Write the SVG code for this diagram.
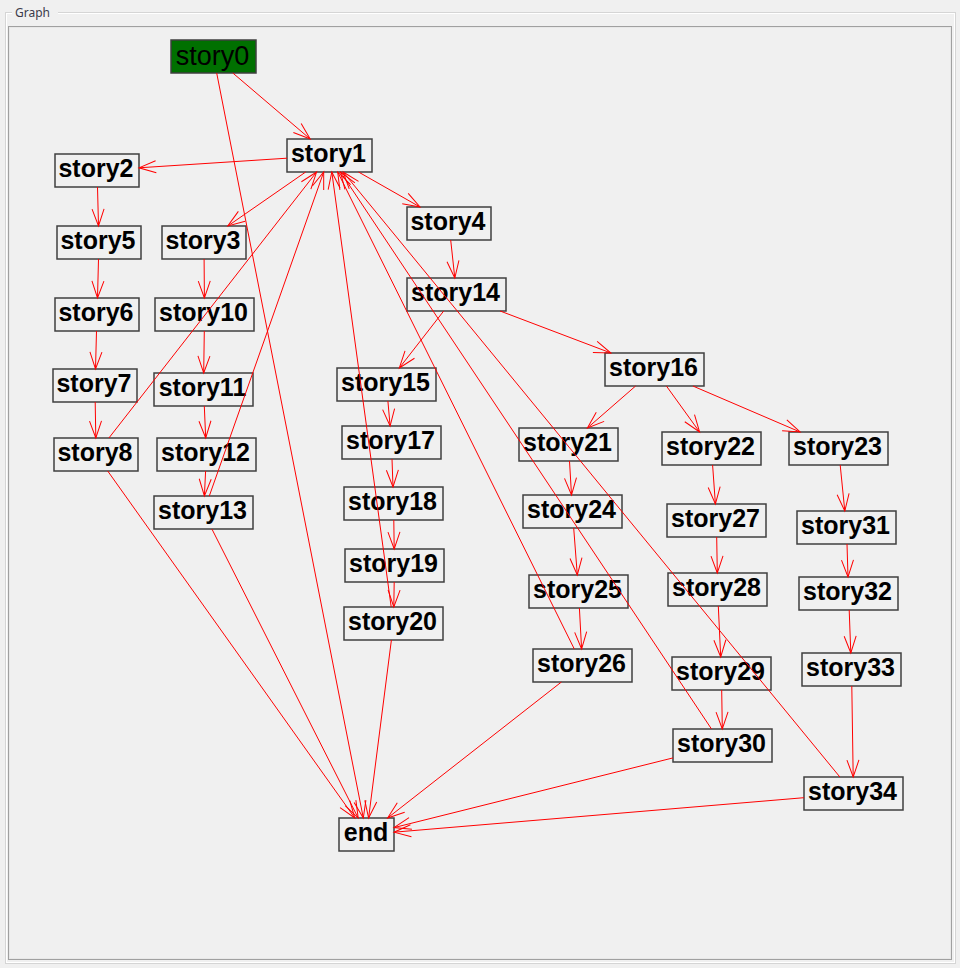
<svg xmlns="http://www.w3.org/2000/svg" width="960" height="968" viewBox="0 0 960 968">
<style>
.nb{fill:#f0f0f0;stroke:#3f3f3f;stroke-width:1.5}
.nt{font-family:"Liberation Sans",Arial,sans-serif;font-weight:bold;font-size:25px;fill:#000;text-anchor:middle}
.e{stroke:#ff0000;stroke-width:1;fill:none;marker-end:url(#ah)}
</style>
<defs>
<marker id="ah" markerWidth="20" markerHeight="14" viewBox="-18 -7 20 14" refX="0" refY="0" orient="auto" markerUnits="userSpaceOnUse" overflow="visible">
<path d="M-17,-6 L0,0 L-17,6" fill="none" stroke="#ff0000" stroke-width="1"/>
</marker>
</defs>
<rect x="0" y="0" width="960" height="968" fill="#f0f0f0"/>
<g id="frame">
<rect x="5.5" y="12.5" width="950" height="951" fill="none" stroke="#d5d5d5"/>
<rect x="6.5" y="13.5" width="948" height="949" fill="none" stroke="#ffffff"/>
<rect x="12" y="4" width="46" height="16" fill="#f0f0f0"/>
<text x="15" y="17" font-family="'Noto Sans','Liberation Sans',sans-serif" font-size="12" fill="#3b3b4a">Graph</text>
<rect x="8.5" y="26.5" width="943" height="933" fill="#f0f0f0" stroke="#a0a0a0"/>
<rect x="9.5" y="27.5" width="941" height="931" fill="none" stroke="#e8e8e8"/>
</g>
<g id="nodes">
<g id="story0"><rect x="171" y="40" width="85" height="33" fill="#007000" stroke="#3f3f3f" stroke-width="1.5"/><text x="212.5" y="65" font-family="'Liberation Sans',Arial,sans-serif" font-size="27" text-anchor="middle" fill="#000">story0</text></g>
<g id="story1"><rect class="nb" x="287" y="139" width="85" height="33"/><text class="nt" x="328.5" y="162">story1</text></g>
<g id="story2"><rect class="nb" x="55" y="154" width="84" height="33"/><text class="nt" x="96" y="177">story2</text></g>
<g id="story3"><rect class="nb" x="162" y="226" width="84" height="33"/><text class="nt" x="203" y="249">story3</text></g>
<g id="story4"><rect class="nb" x="407" y="207" width="84" height="33"/><text class="nt" x="448" y="230">story4</text></g>
<g id="story5"><rect class="nb" x="57" y="226" width="84" height="33"/><text class="nt" x="98" y="249">story5</text></g>
<g id="story6"><rect class="nb" x="55" y="298" width="84" height="33"/><text class="nt" x="96" y="321">story6</text></g>
<g id="story7"><rect class="nb" x="53" y="369" width="84" height="33"/><text class="nt" x="94" y="392">story7</text></g>
<g id="story8"><rect class="nb" x="54" y="438" width="84" height="33"/><text class="nt" x="95" y="461">story8</text></g>
<g id="story10"><rect class="nb" x="155" y="298" width="99" height="33"/><text class="nt" x="203.5" y="321">story10</text></g>
<g id="story11"><rect class="nb" x="154" y="373" width="99" height="33"/><text class="nt" x="202.5" y="396">story11</text></g>
<g id="story12"><rect class="nb" x="157" y="438" width="99" height="33"/><text class="nt" x="205.5" y="461">story12</text></g>
<g id="story13"><rect class="nb" x="154" y="496" width="99" height="33"/><text class="nt" x="202.5" y="519">story13</text></g>
<g id="story14"><rect class="nb" x="407" y="278" width="99" height="33"/><text class="nt" x="455.5" y="301">story14</text></g>
<g id="story15"><rect class="nb" x="337" y="368" width="99" height="33"/><text class="nt" x="385.5" y="391">story15</text></g>
<g id="story16"><rect class="nb" x="605" y="353" width="99" height="33"/><text class="nt" x="653.5" y="376">story16</text></g>
<g id="story17"><rect class="nb" x="342" y="426" width="99" height="33"/><text class="nt" x="390.5" y="449">story17</text></g>
<g id="story18"><rect class="nb" x="344" y="487" width="99" height="33"/><text class="nt" x="392.5" y="510">story18</text></g>
<g id="story19"><rect class="nb" x="345" y="549" width="99" height="33"/><text class="nt" x="393.5" y="572">story19</text></g>
<g id="story20"><rect class="nb" x="344" y="607" width="99" height="33"/><text class="nt" x="392.5" y="630">story20</text></g>
<g id="story21"><rect class="nb" x="519" y="428" width="99" height="33"/><text class="nt" x="567.5" y="451">story21</text></g>
<g id="story22"><rect class="nb" x="662" y="432" width="99" height="33"/><text class="nt" x="710.5" y="455">story22</text></g>
<g id="story23"><rect class="nb" x="789" y="432" width="99" height="33"/><text class="nt" x="837.5" y="455">story23</text></g>
<g id="story24"><rect class="nb" x="523" y="495" width="99" height="33"/><text class="nt" x="571.5" y="518">story24</text></g>
<g id="story25"><rect class="nb" x="529" y="575" width="99" height="33"/><text class="nt" x="577.5" y="598">story25</text></g>
<g id="story26"><rect class="nb" x="533" y="649" width="99" height="33"/><text class="nt" x="581.5" y="672">story26</text></g>
<g id="story27"><rect class="nb" x="667" y="504" width="99" height="33"/><text class="nt" x="715.5" y="527">story27</text></g>
<g id="story28"><rect class="nb" x="668" y="573" width="99" height="33"/><text class="nt" x="716.5" y="596">story28</text></g>
<g id="story29"><rect class="nb" x="672" y="657" width="99" height="33"/><text class="nt" x="720.5" y="680">story29</text></g>
<g id="story30"><rect class="nb" x="673" y="729" width="99" height="33"/><text class="nt" x="721.5" y="752">story30</text></g>
<g id="story31"><rect class="nb" x="797" y="511" width="99" height="33"/><text class="nt" x="845.5" y="534">story31</text></g>
<g id="story32"><rect class="nb" x="799" y="577" width="99" height="33"/><text class="nt" x="847.5" y="600">story32</text></g>
<g id="story33"><rect class="nb" x="802" y="653" width="99" height="33"/><text class="nt" x="850.5" y="676">story33</text></g>
<g id="story34"><rect class="nb" x="804" y="777" width="99" height="33"/><text class="nt" x="852.5" y="800">story34</text></g>
<g id="end"><rect class="nb" x="339" y="818" width="55" height="33"/><text class="nt" x="366" y="841">end</text></g>
</g>
<g id="connectors">
<line class="e" x1="232.8" y1="73" x2="310.2" y2="139"/>
<line class="e" x1="216.7" y1="73" x2="363.3" y2="818"/>
<line class="e" x1="287" y1="158.2" x2="139" y2="167.8"/>
<line class="e" x1="305.7" y1="172" x2="227.8" y2="226"/>
<line class="e" x1="358.5" y1="172" x2="420" y2="207"/>
<line class="e" x1="97.5" y1="187" x2="98.5" y2="226"/>
<line class="e" x1="98.5" y1="259" x2="97.5" y2="298"/>
<line class="e" x1="96.5" y1="331" x2="95.5" y2="369"/>
<line class="e" x1="95.2" y1="402" x2="95.8" y2="438"/>
<line class="e" x1="108.9" y1="438" x2="316.6" y2="172"/>
<line class="e" x1="107.7" y1="471" x2="354.8" y2="818"/>
<line class="e" x1="204.1" y1="259" x2="204.4" y2="298"/>
<line class="e" x1="204.3" y1="331" x2="203.7" y2="373"/>
<line class="e" x1="204.3" y1="406" x2="205.7" y2="438"/>
<line class="e" x1="205.6" y1="471" x2="204.4" y2="496"/>
<line class="e" x1="209.3" y1="496" x2="323.7" y2="172"/>
<line class="e" x1="211.9" y1="529" x2="358.2" y2="818"/>
<line class="e" x1="450.7" y1="240" x2="454.8" y2="278"/>
<line class="e" x1="443.7" y1="311" x2="399.3" y2="368"/>
<line class="e" x1="500.1" y1="311" x2="610.9" y2="353"/>
<line class="e" x1="387.9" y1="401" x2="390.1" y2="426"/>
<line class="e" x1="392" y1="459" x2="393" y2="487"/>
<line class="e" x1="393.8" y1="520" x2="394.2" y2="549"/>
<line class="e" x1="394.2" y1="582" x2="393.8" y2="607"/>
<line class="e" x1="391.2" y1="607" x2="331.8" y2="172"/>
<line class="e" x1="391.4" y1="640" x2="368.6" y2="818"/>
<line class="e" x1="635.6" y1="386" x2="587.4" y2="428"/>
<line class="e" x1="666.4" y1="386" x2="699.6" y2="432"/>
<line class="e" x1="692.9" y1="386" x2="800.1" y2="432"/>
<line class="e" x1="569.5" y1="461" x2="571.5" y2="495"/>
<line class="e" x1="573.7" y1="528" x2="577.3" y2="575"/>
<line class="e" x1="579.4" y1="608" x2="581.6" y2="649"/>
<line class="e" x1="574.3" y1="649" x2="337.7" y2="172"/>
<line class="e" x1="561.4" y1="682" x2="387.6" y2="818"/>
<line class="e" x1="712.6" y1="465" x2="715.4" y2="504"/>
<line class="e" x1="716.7" y1="537" x2="717.3" y2="573"/>
<line class="e" x1="718.3" y1="606" x2="720.7" y2="657"/>
<line class="e" x1="721.7" y1="690" x2="722.3" y2="729"/>
<line class="e" x1="711.5" y1="729" x2="340.5" y2="172"/>
<line class="e" x1="673" y1="757.9" x2="394" y2="827.6"/>
<line class="e" x1="840.2" y1="465" x2="844.8" y2="511"/>
<line class="e" x1="847" y1="544" x2="848" y2="577"/>
<line class="e" x1="849.2" y1="610" x2="850.8" y2="653"/>
<line class="e" x1="851.8" y1="686" x2="853.2" y2="777"/>
<line class="e" x1="839.9" y1="777" x2="343.1" y2="172"/>
<line class="e" x1="804" y1="797.7" x2="394" y2="832.2"/>
</g>
</svg>
